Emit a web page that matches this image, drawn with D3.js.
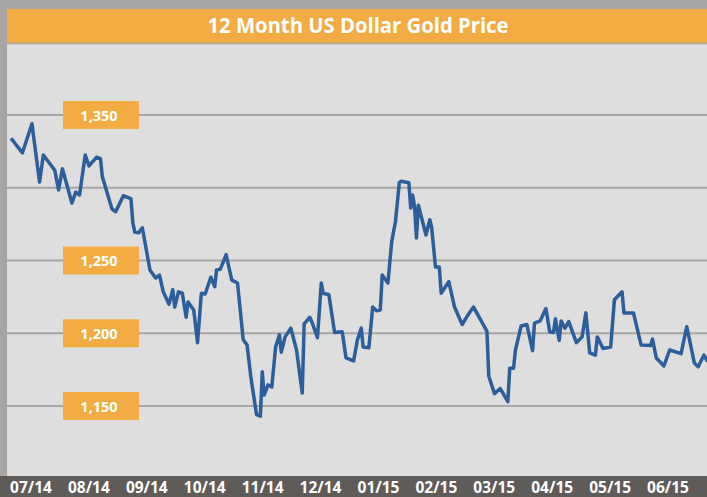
<!DOCTYPE html>
<html>
<head>
<meta charset="utf-8">
<script src="https://cdn.jsdelivr.net/npm/d3@7"></script>
<style>
    body { margin: 0; padding: 0; background: #a8a6a4; }
    svg { display: block; }
</style>
</head>
<body>
<div id="chart"></div>
<script>
// days since 20 Jun 2014 and the gold price
var days = [0, 6, 11, 15, 17, 23, 25, 27, 32, 34, 36, 39, 41, 45, 47, 48, 53, 55, 59, 63,
    64, 65, 67, 69, 73, 76, 78, 80, 83, 85, 86, 88, 90, 92, 93, 96, 98, 100, 102, 105,
    107, 108, 110, 113, 116, 119, 122, 124, 126, 129, 131, 132, 133, 135, 137, 139, 141, 142, 144, 147,
    150, 153, 154, 157, 158, 161, 163, 164, 167, 170, 174, 176, 180, 182, 184, 185, 188, 190, 192, 194,
    195, 198, 200, 202, 204, 205, 209, 210, 211, 212, 213, 214, 218, 220, 221, 223, 225, 226, 230, 233,
    237, 240, 243, 247, 250, 251, 254, 257, 261, 262, 264, 265, 268, 271, 274, 275, 278, 281, 283, 285,
    286, 288, 289, 291, 293, 297, 300, 302, 304, 307, 308, 311, 315, 317, 321, 322, 327, 331, 336, 337,
    339, 343, 346, 352, 355, 359, 361, 364, 366];
var prices = [1334, 1324, 1344, 1304, 1322.5, 1312, 1298.5, 1313, 1289.5, 1297, 1295, 1322.5, 1315, 1321, 1320, 1307.5, 1285.5, 1283.5, 1294.5, 1292.5,
    1276, 1269.5, 1269, 1272.5, 1243.5, 1238, 1240, 1228.5, 1220, 1230, 1218, 1228.5, 1227.5, 1211, 1221.5, 1216, 1193.5, 1227.5, 1227, 1238.5,
    1232, 1243.5, 1244, 1254, 1236.5, 1234.5, 1195.5, 1192, 1170, 1144, 1143, 1173.5, 1157.5, 1164.5, 1163, 1190.5, 1199, 1187, 1197.5, 1203.5,
    1188.5, 1159, 1206.5, 1211, 1208, 1197, 1234.5, 1227.5, 1226.5, 1200.5, 1201, 1183, 1181, 1195.5, 1203.5, 1190.5, 1190, 1218, 1215.5, 1216,
    1240, 1234.5, 1263, 1277, 1303.5, 1304.5, 1303.5, 1286, 1295, 1287, 1265.5, 1288, 1267.5, 1278, 1272.5, 1245.5, 1245.5, 1227.5, 1235.5, 1218,
    1206, 1212.5, 1218, 1208.5, 1201.5, 1170.5, 1158.5, 1162, 1153, 1176, 1176, 1188.5, 1205, 1206, 1188, 1207, 1208.5, 1217, 1201, 1200.5,
    1210, 1195, 1208.5, 1203.5, 1208, 1193.5, 1197.5, 1214, 1186.5, 1185, 1197.5, 1189.5, 1190.5, 1223, 1228.5, 1214, 1214, 1192, 1191.5, 1196,
    1183, 1177.5, 1188.5, 1186, 1204.5, 1179.5, 1177, 1185, 1180.5];

var gridValues = [1350, 1300, 1250, 1200, 1150];
var boxValues = [1350, 1250, 1200, 1150];
var monthLabels = ['07/14', '08/14', '09/14', '10/14', '11/14', '12/14',
    '01/15', '02/15', '03/15', '04/15', '05/15', '06/15'];
var title = '12 Month US Dollar Gold Price';

var width = 707, height = 497;
var plot = { left: 7, top: 44, right: 707, bottom: 476 };
var font = '"Open Sans", "Noto Sans", sans-serif';

var data = days.map(function (d, i) { return { day: d, price: prices[i] }; });

var xScale = d3.scaleLinear().domain([0, 366]).range([11, 707.7]);
var yScale = d3.scaleLinear().domain([1150, 1350]).range([406, 115]);
var monthScale = d3.scalePoint().domain(monthLabels).range([31, 668]);

var svg = d3.select('#chart').append('svg')
    .attr('width', width)
    .attr('height', height);

// background and title bar
svg.append('rect')
    .attr('width', width).attr('height', height)
    .attr('fill', '#a8a6a4');

svg.append('rect')
    .attr('x', plot.left).attr('y', 9)
    .attr('width', width - plot.left).attr('height', 34)
    .attr('fill', '#f2ac43');

svg.append('text')
    .attr('x', (plot.left + width) / 2 + 1)
    .attr('y', 33)
    .attr('text-anchor', 'middle')
    .attr('fill', '#ffffff')
    .attr('font-family', font)
    .attr('font-weight', 'bold')
    .attr('font-size', 21.5)
    .attr('textLength', 301)
    .attr('lengthAdjust', 'spacingAndGlyphs')
    .text(title);

// plot area
svg.append('rect')
    .attr('x', plot.left).attr('y', plot.top)
    .attr('width', plot.right - plot.left).attr('height', plot.bottom - plot.top)
    .attr('fill', '#dedede');

svg.append('line')
    .attr('x1', plot.left).attr('x2', plot.right)
    .attr('y1', plot.top - 0.5).attr('y2', plot.top - 0.5)
    .attr('stroke', '#a8a6a4')
    .attr('stroke-width', 1.5);

svg.append('defs').append('clipPath')
    .attr('id', 'plotClip')
    .append('rect')
    .attr('x', plot.left).attr('y', plot.top)
    .attr('width', plot.right - plot.left).attr('height', plot.bottom - plot.top);

// gridlines
svg.append('g')
    .selectAll('line')
    .data(gridValues)
    .enter().append('line')
    .attr('x1', plot.left).attr('x2', plot.right)
    .attr('y1', function (d) { return yScale(d); })
    .attr('y2', function (d) { return yScale(d); })
    .attr('stroke', '#a8a6a4')
    .attr('stroke-width', 2);

// value boxes on the gridlines
var boxes = svg.append('g')
    .selectAll('g')
    .data(boxValues)
    .enter().append('g')
    .attr('transform', function (d) { return 'translate(63,' + yScale(d) + ')'; });

boxes.append('rect')
    .attr('x', 0).attr('y', -14)
    .attr('width', 76).attr('height', 28)
    .attr('fill', '#f2ac43');

boxes.append('text')
    .attr('x', 36).attr('y', 5.5)
    .attr('text-anchor', 'middle')
    .attr('fill', '#ffffff')
    .attr('font-family', font)
    .attr('font-weight', 'bold')
    .attr('font-size', 14.5)
    .text(function (d) { return d3.format(',')(d); });

// price line
var line = d3.line()
    .x(function (d) { return xScale(d.day); })
    .y(function (d) { return yScale(d.price); });

svg.append('path')
    .datum(data)
    .attr('clip-path', 'url(#plotClip)')
    .attr('d', line)
    .attr('fill', 'none')
    .attr('stroke', '#2b5e9b')
    .attr('stroke-width', 3.5)
    .attr('stroke-linejoin', 'round');

// month bar
svg.append('rect')
    .attr('x', 0).attr('y', plot.bottom)
    .attr('width', width).attr('height', height - plot.bottom)
    .attr('fill', '#5f5b59');

svg.append('g')
    .selectAll('text')
    .data(monthLabels)
    .enter().append('text')
    .attr('x', function (d) { return monthScale(d); })
    .attr('y', 493)
    .attr('text-anchor', 'middle')
    .attr('fill', '#ffffff')
    .attr('font-family', font)
    .attr('font-weight', 'bold')
    .attr('font-size', 15.5)
    .text(function (d) { return d; });
</script>
</body>
</html>
